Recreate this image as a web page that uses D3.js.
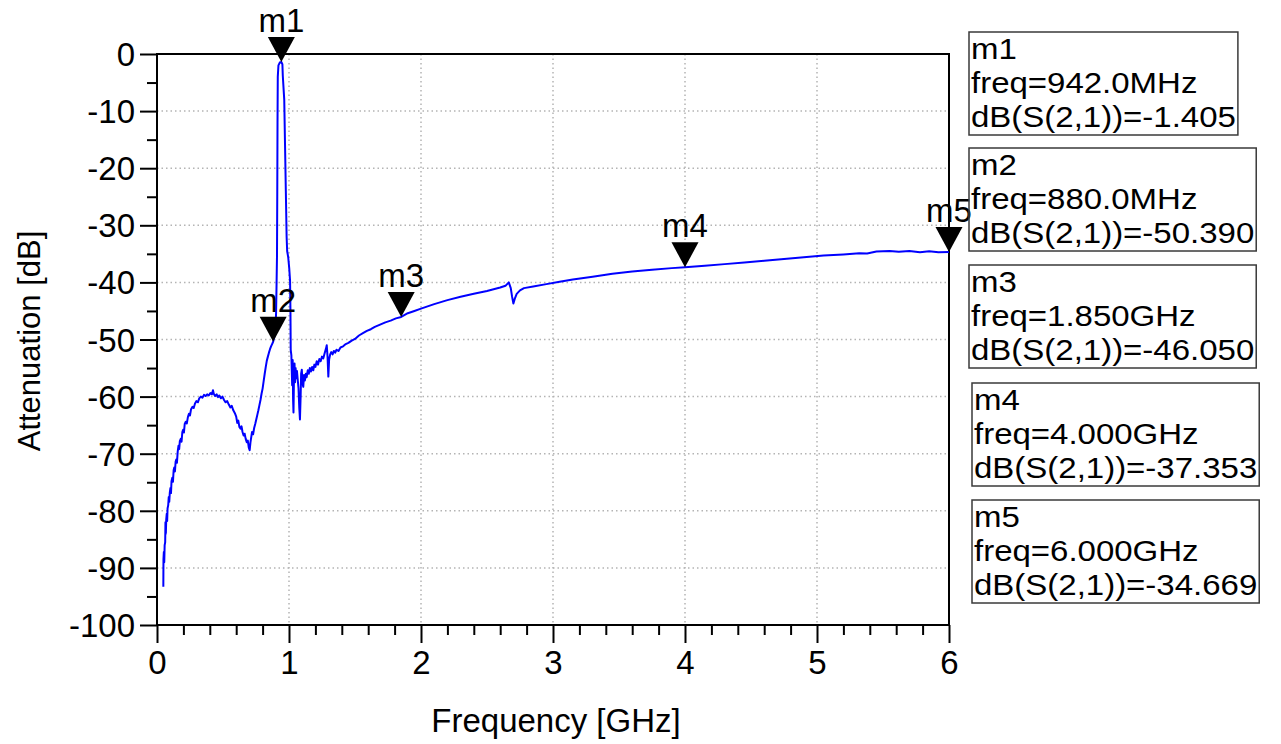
<!DOCTYPE html>
<html><head><meta charset="utf-8">
<script src="https://cdn.jsdelivr.net/npm/d3@7"></script>
<style>
html,body{margin:0;padding:0;background:#fff;}
svg{display:block;font-family:"Liberation Sans",Arial,sans-serif;}
</style></head>
<body><svg id="chart" width="1281" height="744"></svg>
<script>
// ---- data ----
const freqGHz = [0.048,0.049,0.052,0.055,0.058,0.062,0.064,0.067,0.070,0.074,0.077,0.080,0.085,0.089,0.093,0.097,0.102,0.106,0.110,0.116,0.121,0.126,0.131,0.136,0.141,0.146,0.151,0.157,0.163,0.168,0.173,0.180,0.186,0.192,0.198,0.204,0.210,0.218,0.226,0.234,0.242,0.250,0.258,0.268,0.278,0.288,0.298,0.310,0.320,0.332,0.344,0.356,0.368,0.380,0.392,0.404,0.416,0.424,0.430,0.440,0.452,0.462,0.472,0.484,0.496,0.508,0.520,0.532,0.544,0.556,0.566,0.578,0.590,0.600,0.608,0.616,0.624,0.632,0.640,0.648,0.656,0.664,0.672,0.680,0.688,0.695,0.702,0.708,0.714,0.720,0.728,0.736,0.744,0.752,0.760,0.768,0.776,0.784,0.792,0.800,0.808,0.816,0.824,0.832,0.840,0.848,0.856,0.864,0.872,0.880,0.888,0.896,0.902,0.906,0.909,0.911,0.913,0.915,0.920,0.930,0.942,0.950,0.953,0.960,0.964,0.970,0.976,0.982,0.986,0.994,1.002,1.008,1.011,1.013,1.018,1.024,1.028,1.031,1.034,1.038,1.042,1.046,1.050,1.055,1.060,1.066,1.072,1.078,1.083,1.088,1.092,1.097,1.102,1.108,1.114,1.120,1.128,1.134,1.142,1.150,1.158,1.166,1.175,1.184,1.192,1.200,1.210,1.220,1.230,1.240,1.250,1.260,1.270,1.280,1.286,1.292,1.298,1.304,1.312,1.320,1.330,1.340,1.350,1.360,1.375,1.390,1.410,1.430,1.450,1.475,1.500,1.530,1.560,1.590,1.620,1.650,1.690,1.730,1.770,1.810,1.850,1.900,1.950,2.000,2.100,2.200,2.300,2.400,2.500,2.600,2.640,2.665,2.680,2.690,2.700,2.710,2.725,2.750,2.780,2.850,2.950,3.050,3.150,3.300,3.450,3.600,3.750,3.900,4.000,4.150,4.300,4.450,4.600,4.750,4.900,5.050,5.200,5.320,5.380,5.450,5.550,5.620,5.700,5.780,5.850,5.920,6.000];
const s21dB = [-93.3,-88.5,-87.2,-89.0,-86.0,-85.5,-82.0,-84.0,-81.5,-80.5,-81.8,-79.6,-79.0,-77.6,-78.4,-76.8,-76.0,-76.9,-74.8,-74.2,-74.9,-72.9,-72.4,-73.1,-71.4,-71.0,-71.6,-69.6,-68.6,-69.2,-67.8,-67.4,-67.9,-66.2,-65.8,-66.3,-64.8,-64.4,-64.7,-63.6,-63.0,-63.3,-62.2,-61.8,-62.0,-61.2,-60.8,-61.0,-60.3,-60.0,-60.2,-59.7,-59.9,-59.6,-59.8,-59.4,-59.6,-58.9,-59.5,-59.9,-59.6,-60.1,-59.8,-60.3,-60.0,-60.6,-61.0,-60.8,-61.4,-61.9,-61.6,-62.4,-62.9,-63.5,-64.6,-64.2,-65.3,-65.6,-65.2,-66.2,-66.8,-66.5,-67.4,-68.0,-67.7,-68.9,-69.4,-68.0,-67.1,-66.2,-66.6,-65.5,-64.8,-64.0,-63.2,-62.4,-61.5,-60.6,-59.5,-58.6,-57.3,-56.0,-54.8,-53.7,-53.0,-52.3,-51.7,-51.2,-50.8,-50.39,-49.6,-48.4,-45.5,-40.0,-35.5,-25.0,-12.0,-4.0,-2.0,-1.5,-1.405,-1.8,-3.8,-6.5,-8.0,-16.0,-24.0,-32.0,-34.5,-35.6,-37.6,-39.7,-45.0,-51.8,-52.8,-58.0,-53.6,-60.5,-62.8,-56.0,-54.2,-57.5,-55.0,-56.8,-55.5,-57.0,-58.5,-62.0,-64.0,-60.0,-56.0,-55.3,-57.6,-58.3,-56.2,-57.2,-56.0,-56.6,-55.4,-56.0,-55.0,-55.6,-54.8,-55.4,-54.4,-54.8,-53.8,-54.4,-53.4,-53.8,-53.0,-53.3,-52.4,-51.6,-51.0,-53.0,-56.5,-53.5,-52.6,-52.2,-52.6,-52.0,-52.3,-51.8,-52.0,-51.4,-51.2,-50.8,-50.6,-50.2,-49.9,-49.3,-48.9,-48.5,-48.2,-47.8,-47.4,-47.0,-46.7,-46.3,-46.05,-45.4,-45.0,-44.6,-43.8,-43.1,-42.5,-42.0,-41.5,-40.9,-40.6,-40.0,-41.0,-42.5,-43.7,-42.9,-42.0,-41.4,-41.0,-40.7,-40.3,-39.9,-39.5,-39.0,-38.5,-38.1,-37.8,-37.5,-37.353,-37.1,-36.8,-36.5,-36.2,-35.9,-35.6,-35.3,-35.1,-34.9,-34.95,-34.6,-34.5,-34.65,-34.5,-34.7,-34.55,-34.7,-34.669];

const markerNames = ["m1","m2","m3","m4","m5"];
const markerFreqGHz = [0.942,0.880,1.850,4.000,6.000];
const markerDB = [-1.405,-50.390,-46.050,-37.353,-34.669];

const xTickValues = [0,1,2,3,4,5,6];
const yTickValues = [0,-10,-20,-30,-40,-50,-60,-70,-80,-90,-100];
const xTitle = "Frequency [GHz]";
const yTitle = "Attenuation [dB]";

// ---- layout ----
const svg = d3.select("#chart");
const L = 157, R = 949, T = 54, B = 625;
const FS = 33;
const x = d3.scaleLinear().domain([0,6]).range([L,R]);
const y = d3.scaleLinear().domain([-100,0]).range([B,T]);

// grid
const grid = svg.append("g").attr("stroke","#b4b4b4").attr("stroke-width",1.5).attr("stroke-dasharray","1.5,3");
grid.selectAll("line.v").data(xTickValues.filter(v=>v>0&&v<6)).join("line")
  .attr("x1",d=>x(d)).attr("x2",d=>x(d)).attr("y1",T).attr("y2",B);
grid.selectAll("line.h").data(yTickValues.filter(v=>v<0&&v>-100)).join("line")
  .attr("y1",d=>y(d)).attr("y2",d=>y(d)).attr("x1",L).attr("x2",R);

// minor ticks
const yMinor = d3.range(-95,0,10);
const xMinor = d3.range(0,6.001,0.2).filter(v=>Math.abs(v-Math.round(v))>1e-6);
svg.append("g").attr("transform",`translate(${L},0)`)
  .call(d3.axisLeft(y).tickValues(yMinor).tickSize(10).tickSizeOuter(0).tickFormat(""))
  .call(g=>g.select(".domain").remove())
  .selectAll("line").attr("stroke","#000").attr("stroke-width",2);
svg.append("g").attr("transform",`translate(0,${B})`)
  .call(d3.axisBottom(x).tickValues(xMinor).tickSize(10).tickSizeOuter(0).tickFormat(""))
  .call(g=>g.select(".domain").remove())
  .selectAll("line").attr("stroke","#000").attr("stroke-width",2);

// major axes
const yAxis = svg.append("g").attr("transform",`translate(${L},0)`)
  .call(d3.axisLeft(y).tickValues(yTickValues).tickSize(17).tickSizeOuter(0).tickPadding(5).tickFormat(d3.format("d")));
yAxis.select(".domain").remove();
yAxis.selectAll("line").attr("stroke","#000").attr("stroke-width",2);
yAxis.selectAll("text").attr("font-size",FS).attr("font-family","Liberation Sans, Arial, sans-serif").attr("fill","#000").attr("dy","0.35em");
yAxis.selectAll("text").text(d=>String(d));

const xAxis = svg.append("g").attr("transform",`translate(0,${B})`)
  .call(d3.axisBottom(x).tickValues(xTickValues).tickSize(18).tickSizeOuter(0).tickPadding(8).tickFormat(d3.format("d")));
xAxis.select(".domain").remove();
xAxis.selectAll("line").attr("stroke","#000").attr("stroke-width",2);
xAxis.selectAll("text").attr("font-size",FS).attr("font-family","Liberation Sans, Arial, sans-serif").attr("fill","#000");

// frame
svg.append("rect").attr("x",L).attr("y",T).attr("width",R-L).attr("height",B-T)
  .attr("fill","none").attr("stroke","#000").attr("stroke-width",2);

// trace
const pts = freqGHz.map((f,i)=>[f,s21dB[i]]);
svg.append("path").datum(pts)
  .attr("fill","none").attr("stroke","#0000ff").attr("stroke-width",2).attr("stroke-linejoin","round")
  .attr("d",d3.line().x(d=>x(d[0])).y(d=>y(d[1])));

// markers
const mk = svg.append("g");
markerNames.forEach((n,i)=>{
  const px = x(markerFreqGHz[i]), py = y(markerDB[i]);
  mk.append("path").attr("d",`M${px},${py} L${px-13.5},${py-25} L${px+13.5},${py-25} Z`).attr("fill","#000");
  mk.append("text").attr("x",px).attr("y",py-30).attr("text-anchor","middle")
    .attr("font-size",FS).attr("fill","#000").text(n);
});

// legend boxes (text slightly condensed vertically, stretched horizontally as in reference)
const boxLeft = [969,969,969,972,972];
const boxTop = [32,148,265,383,500];
const LFS = 30, SX = 1.1;
const fmtFreq = f => f<1 ? (f*1000).toFixed(1)+"MHz" : f.toFixed(3)+"GHz";
const lg = svg.append("g");
markerNames.forEach((n,i)=>{
  const g = lg.append("g");
  const lines = [n, "freq="+fmtFreq(markerFreqGHz[i]), "dB(S(2,1))="+markerDB[i].toFixed(3)];
  const base = [27,61,95];
  const tg = g.append("g").attr("transform",`translate(${boxLeft[i]+2},${boxTop[i]}) scale(${SX},1)`);
  let maxW = 0;
  lines.forEach((s,j)=>{
    const t = tg.append("text").attr("x",0).attr("y",base[j])
      .attr("font-size",LFS).attr("fill","#000").text(s);
    maxW = Math.max(maxW, t.node().getComputedTextLength()*SX);
  });
  g.insert("rect",":first-child").attr("x",boxLeft[i]).attr("y",boxTop[i]).attr("width",maxW+4).attr("height",103)
    .attr("fill","none").attr("stroke","#3a3a3a").attr("stroke-width",1.5);
});

// titles
svg.append("text").attr("x",556).attr("y",732).attr("text-anchor","middle")
  .attr("font-size",FS).attr("fill","#000").text(xTitle);
svg.append("text").attr("transform","translate(40,341) rotate(-90)").attr("text-anchor","middle")
  .attr("font-size",31).attr("fill","#000").text(yTitle);
</script></body></html>
